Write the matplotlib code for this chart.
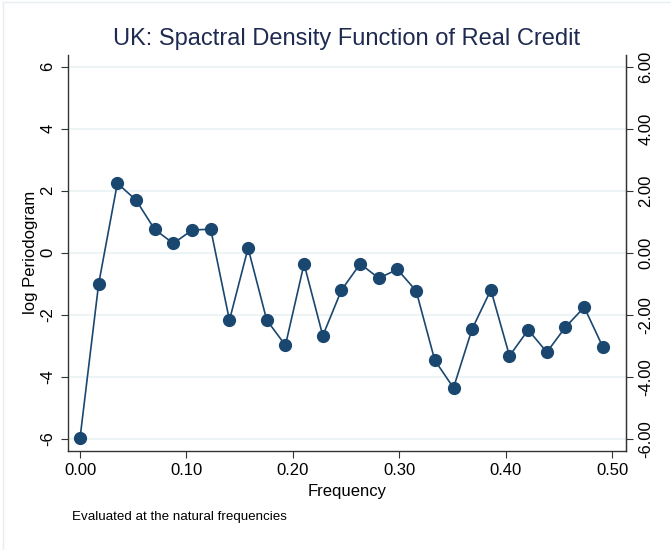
import matplotlib
matplotlib.use("Agg")
import matplotlib.pyplot as plt
from matplotlib.lines import Line2D

# Periodogram values
freq = [0.0000, 0.0175, 0.0351, 0.0526, 0.0702, 0.0877, 0.1053, 0.1228,
        0.1404, 0.1579, 0.1754, 0.1930, 0.2105, 0.2281, 0.2456, 0.2632,
        0.2807, 0.2982, 0.3158, 0.3333, 0.3509, 0.3684, 0.3860, 0.4035,
        0.4211, 0.4386, 0.4561, 0.4737, 0.4912]
log_pgram = [-5.99, -1.01, 2.24, 1.70, 0.75, 0.30, 0.73, 0.76,
             -2.18, 0.15, -2.17, -2.99, -0.36, -2.68, -1.21, -0.36,
             -0.82, -0.54, -1.23, -3.47, -4.36, -2.46, -1.20, -3.33,
             -2.49, -3.21, -2.40, -1.76, -3.04]

x_ticks = [0.0, 0.1, 0.2, 0.3, 0.4, 0.5]
y_ticks = [-6, -4, -2, 0, 2, 4, 6]

navy = "#1a476f"
grid_col = "#eaf2f3"

plt.rcParams['font.family'] = ['Liberation Sans', 'DejaVu Sans']

fig = plt.figure(figsize=(6.71, 5.5), dpi=100)
ax = fig.add_axes([0.1013, 0.1805, 0.8317, 0.7195])

ax.plot(freq, log_pgram, color=navy, lw=1.2, marker='o', ms=8.5,
        markerfacecolor=navy, markeredgecolor=navy, zorder=3)

ax.set_xlim(-0.0113, 0.513)
ax.set_ylim(-6.39, 6.38)
ax.set_xticks(x_ticks)
ax.set_xticklabels(["%.2f" % v for v in x_ticks], fontsize=12)
ax.set_yticks(y_ticks)
ax.set_yticklabels([str(v) for v in y_ticks], fontsize=12, rotation=90, va='center')
ax.grid(axis='y', color=grid_col, lw=1.2)
ax.set_axisbelow(True)

ax.spines['top'].set_visible(False)
for s in ['left', 'bottom', 'right']:
    ax.spines[s].set_color('#333333')
    ax.spines[s].set_linewidth(1.0)
ax.tick_params(axis='both', direction='out', length=5, color='#333333', pad=4)

# right axis with two-decimal labels
ax2 = ax.twinx()
ax2.set_ylim(ax.get_ylim())
ax2.set_yticks(y_ticks)
ax2.set_yticklabels(["%.2f" % v for v in y_ticks], fontsize=12, rotation=90, va='center')
ax2.tick_params(axis='y', direction='out', length=5, color='#333333', pad=4)
for s in ['top', 'left', 'bottom']:
    ax2.spines[s].set_visible(False)
ax2.spines['right'].set_color('#333333')

ax.set_xlabel("Frequency", fontsize=12, labelpad=4)
ax.set_ylabel("log Periodogram", fontsize=12)
ax.yaxis.set_label_coords(-0.054, 0.5)

fig.text(0.517, 0.93, "UK: Spactral Density Function of Real Credit",
         ha='center', va='center', fontsize=17, color="#1e2a50")
fig.text(0.107, 0.06, "Evaluated at the natural frequencies", fontsize=9.6,
         ha='left', va='center')

# faint outer border
fig.add_artist(Line2D([0.004, 0.004], [0, 0.996], color="#e6eef0", lw=1,
                      transform=fig.transFigure))
fig.add_artist(Line2D([0.004, 1], [0.996, 0.996], color="#e6eef0", lw=1,
                      transform=fig.transFigure))

fig.savefig("out.png", dpi=100)
